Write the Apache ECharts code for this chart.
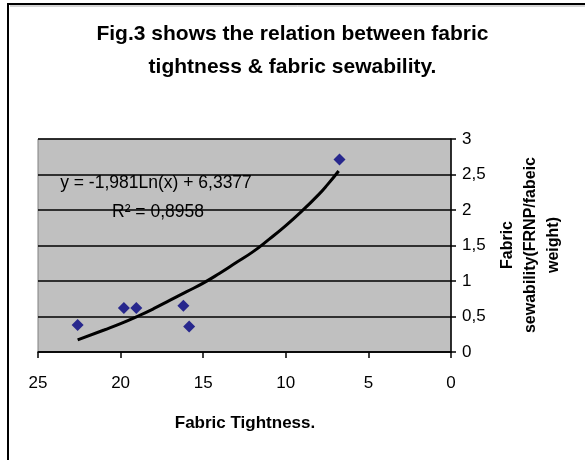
<!DOCTYPE html>
<html><head><meta charset="utf-8">
<script src="https://cdn.jsdelivr.net/npm/echarts@6/dist/echarts.min.js"></script>
<style>html,body{margin:0;padding:0;background:#fff}#c{width:585px;height:460px}</style>
</head><body><div id="c"></div>
<script>
const tightness = [22.6, 19.8, 19.05, 16.2, 15.85, 6.75];
const sewability = [0.38, 0.62, 0.62, 0.65, 0.36, 2.71];
const trendX = [22.6, 21, 20, 19, 18, 17, 16, 15, 14, 13, 12, 11, 10, 9, 8, 7.5, 6.8];
const trendY = [0.17, 0.31, 0.40, 0.50, 0.61, 0.73, 0.85, 0.97, 1.11, 1.26, 1.41, 1.59, 1.78, 1.99, 2.22, 2.35, 2.55];
const titleText = 'Fig.3 shows the relation between fabric\ntightness & fabric sewability.';
const xTitle = 'Fabric Tightness.';
const yTitle = 'Fabric\nsewability(FRNP/fabeic\nweight)';
const eqText = 'y = -1,981Ln(x) + 6,3377';
const r2Text = 'R² = 0,8958';

const F = 'Liberation Sans, Arial, sans-serif';
const chart = echarts.init(document.getElementById('c'), null, {renderer: 'canvas'});
chart.setOption({
  animation: false,
  backgroundColor: '#fff',
  title: {
    text: titleText, left: 'center', top: 13,
    textStyle: {fontFamily: F, fontSize: 21, fontWeight: 'bold', color: '#000', lineHeight: 33}
  },
  grid: {left: 38, right: 134, top: 139, bottom: 108, show: true,
    backgroundColor: '#c0c0c0', borderColor: '#808080', borderWidth: 1},
  xAxis: {
    type: 'value', min: 0, max: 25, interval: 5, inverse: true,
    axisLine: {lineStyle: {color: '#000', width: 1.5}},
    axisTick: {show: true, length: 6, lineStyle: {color: '#000', width: 1.5}},
    axisLabel: {fontFamily: F, fontSize: 17, color: '#000', margin: 23},
    splitLine: {show: false}
  },
  yAxis: {
    type: 'value', position: 'right', min: 0, max: 3, interval: 0.5,
    axisLine: {show: true, lineStyle: {color: '#000', width: 1.5}},
    axisTick: {show: true, length: 5, lineStyle: {color: '#000', width: 1.5}},
    axisLabel: {fontFamily: F, fontSize: 17, color: '#000', margin: 11,
      formatter: v => String(v).replace('.', ',')},
    splitLine: {show: true, lineStyle: {color: '#000', width: 1.5}}
  },
  series: [
    {type: 'line', data: trendX.map((x, i) => [x, trendY[i]]), smooth: true,
     showSymbol: false, lineStyle: {color: '#000', width: 3}, z: 2},
    {type: 'scatter', data: tightness.map((x, i) => [x, sewability[i]]),
     symbol: 'diamond', symbolSize: 12, itemStyle: {color: '#000080'}, z: 3}
  ],
  graphic: [
    {type: 'rect', shape: {x: 8, y: 4, width: 600, height: 500},
     style: {fill: 'none', stroke: '#000', lineWidth: 2}},
    {type: 'line', shape: {x1: 10, y1: 6, x2: 585, y2: 6}, style: {stroke: '#aaa', lineWidth: 1}},
    {type: 'text', x: 156, y: 183, style: {text: eqText, font: '17.5px ' + F, fill: '#000', align: 'center', verticalAlign: 'middle'}, z: 10},
    {type: 'text', x: 158, y: 212, style: {text: r2Text, font: '17.5px ' + F, fill: '#000', align: 'center', verticalAlign: 'middle'}, z: 10},
    {type: 'text', x: 245, y: 423, style: {text: xTitle, font: 'bold 17px ' + F, fill: '#000', align: 'center', verticalAlign: 'middle'}},
    {type: 'text', x: 531, y: 245, rotation: Math.PI / 2,
     style: {text: yTitle, font: 'bold 16px ' + F, lineHeight: 23, fill: '#000', align: 'center', verticalAlign: 'middle'}}
  ]
});
</script></body></html>
